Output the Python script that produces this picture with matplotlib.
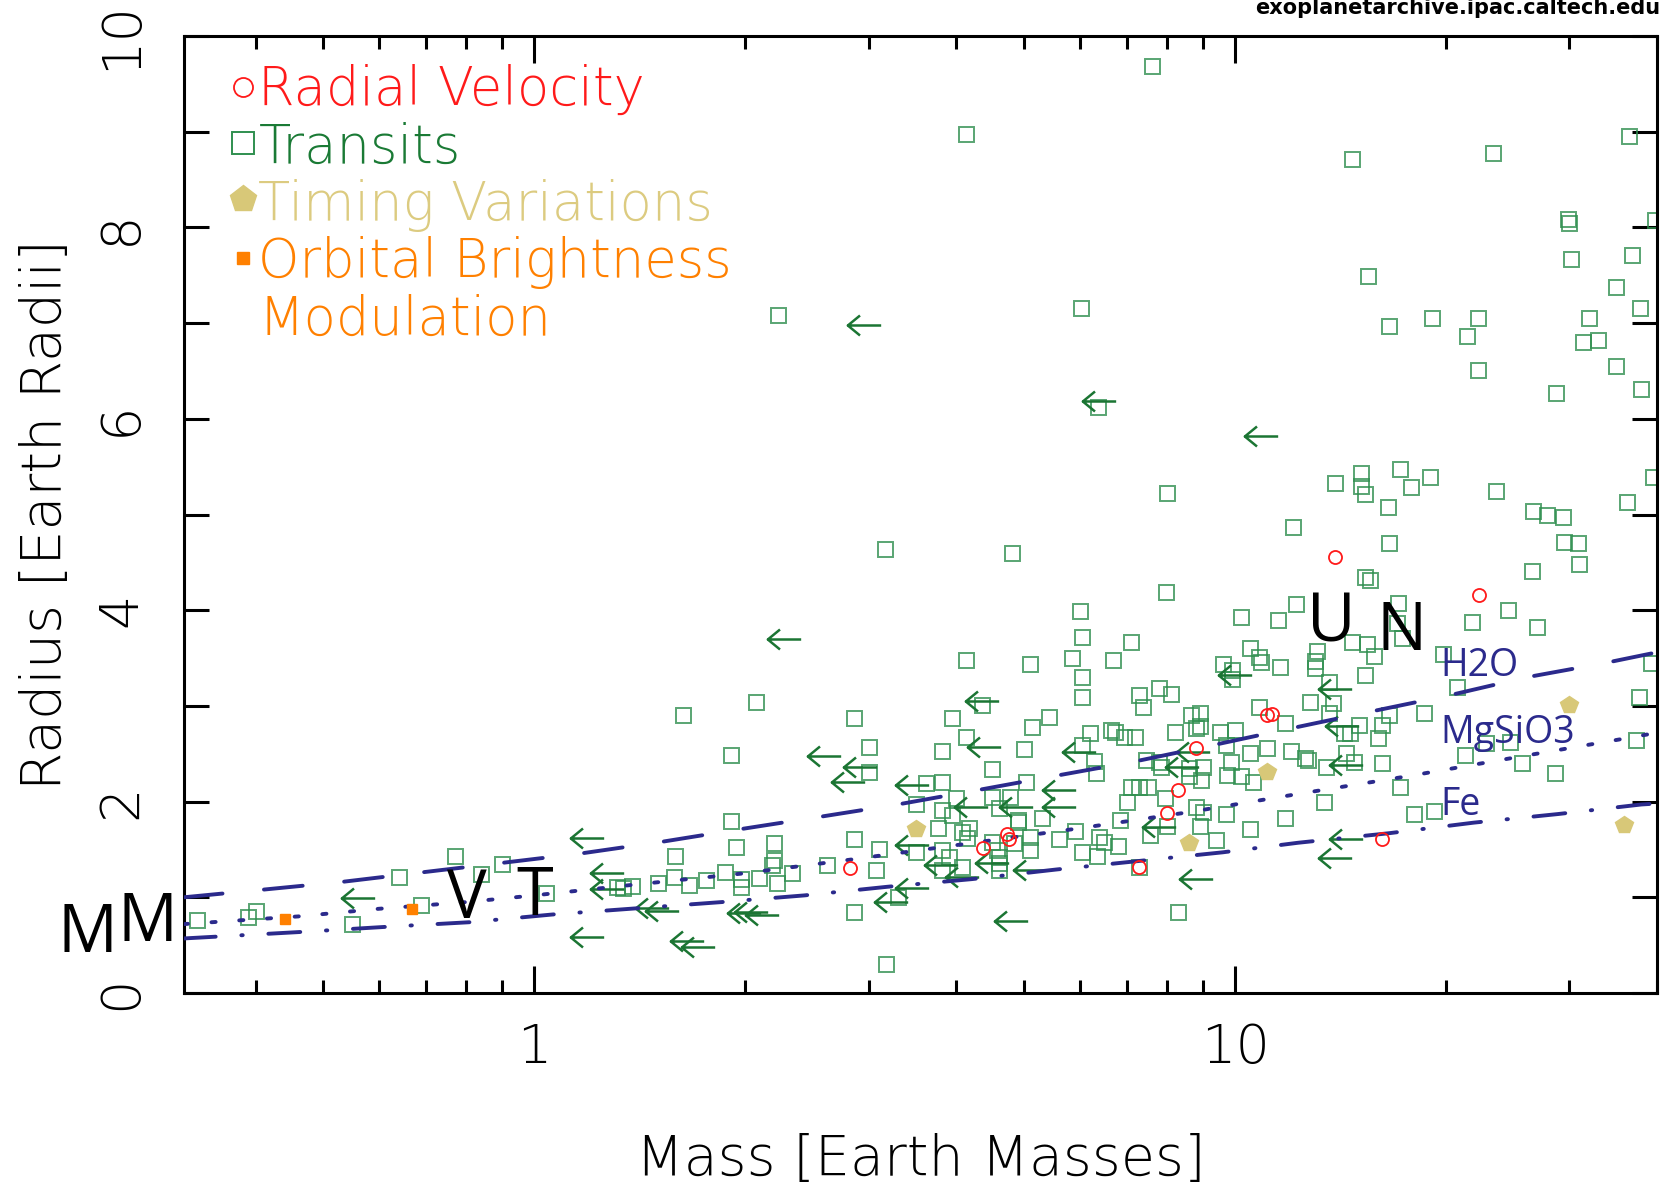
import numpy as np
import matplotlib
matplotlib.use('Agg')
import matplotlib.pyplot as plt
from matplotlib.path import Path
from matplotlib.ticker import LogLocator, NullFormatter, MultipleLocator

plt.rcParams['lines.scale_dashes'] = False

# values: (mass [Earth masses], radius [Earth radii])
transit_pts = [
    # sparse upper part
    (7.6, 9.69), (4.13, 8.98), (36.5, 8.96), (14.7, 8.71), (23.3, 8.78),
    (39.8, 8.08), (29.9, 8.09), (30.0, 8.05), (30.2, 7.67), (36.9, 7.71),
    (15.5, 7.49), (35.0, 7.38), (32.0, 7.05), (37.8, 7.16), (2.23, 7.08),
    (6.03, 7.16), (19.1, 7.05), (22.2, 7.05), (16.6, 6.97), (21.4, 6.87),
    (31.4, 6.80), (32.9, 6.82), (22.2, 6.51), (35.0, 6.55), (28.7, 6.27),
    (38.0, 6.31), (6.37, 6.12),
    # 3 - 5.5 Re
    (8.0, 5.22), (12.1, 4.87), (4.8, 4.60), (3.17, 4.64), (7.97, 4.19), (6.0, 3.99),
    (12.2, 4.06), (10.2, 3.93), (11.5, 3.90), (6.05, 3.72), (7.1, 3.67),
    (4.13, 3.48), (5.1, 3.44), (5.85, 3.50), (6.7, 3.48), (10.5, 3.60),
    (10.8, 3.51), (10.9, 3.46), (11.6, 3.41), (9.6, 3.44), (9.9, 3.38),
    (9.9, 3.28), (6.05, 3.30),
    (15.1, 5.43), (15.1, 5.30), (13.9, 5.33), (15.3, 5.21), (17.2, 5.48),
    (17.8, 5.29), (19.0, 5.39), (16.5, 5.08), (23.6, 5.25), (39.5, 5.39),
    (36.3, 5.13), (26.6, 5.04), (27.9, 4.99), (29.4, 4.97), (29.5, 4.71),
    (30.9, 4.70), (31.0, 4.48), (26.5, 4.41), (16.6, 4.70), (15.3, 4.35),
    (15.6, 4.32), (17.1, 4.08), (24.5, 4.00), (21.8, 3.88), (27.0, 3.82),
    (17.0, 3.87), (17.3, 3.71), (14.7, 3.67), (15.4, 3.65), (15.8, 3.52),
    (13.1, 3.57), (13.0, 3.47), (13.0, 3.40), (15.3, 3.32), (13.6, 3.25),
    (19.8, 3.54), (20.7, 3.20), (39.2, 3.45),
    # 2 - 3 Re, heavy side
    (12.8, 3.04), (13.8, 3.03), (13.6, 2.93), (14.3, 2.72), (14.6, 2.72),
    (15.0, 2.80), (16.0, 2.66), (16.2, 2.80), (16.6, 2.90), (18.6, 2.93),
    (37.7, 3.09), (12.6, 2.46), (12.7, 2.43), (13.5, 2.36),
    (14.8, 2.41), (14.4, 2.51), (16.2, 2.40), (17.2, 2.15), (13.4, 2.00),
    (21.3, 2.49), (22.8, 2.61), (24.7, 2.62), (25.7, 2.40), (28.6, 2.30),
    (37.3, 2.64), (18.0, 1.87), (19.2, 1.90),
    # 4 - 12 Me
    (4.35, 3.01), (6.05, 3.09), (7.3, 3.11), (7.4, 2.99), (7.8, 3.19),
    (8.1, 3.12), (3.95, 2.87), (5.13, 2.78), (5.42, 2.88), (4.13, 2.68),
    (3.82, 2.53), (5.0, 2.55), (6.05, 2.59), (6.2, 2.72), (6.66, 2.75),
    (6.75, 2.73), (6.95, 2.68), (7.2, 2.68), (6.29, 2.42), (6.34, 2.30),
    (4.5, 2.34), (3.82, 2.20), (5.03, 2.20), (8.2, 2.73),
    (8.66, 2.90), (8.9, 2.93), (8.8, 2.77), (8.9, 2.79), (7.45, 2.43),
    (7.8, 2.41), (7.85, 2.36), (8.6, 2.35), (9.0, 2.36), (8.6, 2.27),
    (8.95, 2.23), (9.5, 2.73), (10.0, 2.75), (9.7, 2.59), (11.1, 2.56),
    (10.5, 2.51), (12.0, 2.53), (10.8, 2.99), (11.8, 2.82), (9.75, 2.28),
    (10.2, 2.27), (10.6, 2.20), (9.85, 2.41), (7.1, 2.15), (7.3, 2.15),
    (7.5, 2.15), (7.0, 2.00), (7.95, 2.04), (8.8, 1.94), (9.0, 1.89),
    (9.7, 1.87), (6.85, 1.81), (8.9, 1.74), (8.0, 1.75), (7.55, 1.65),
    (10.5, 1.71), (11.8, 1.83), (9.4, 1.60), (6.4, 1.63), (6.5, 1.58),
    (6.8, 1.54), (6.05, 1.47), (6.35, 1.43), (7.3, 1.32), (5.9, 1.69),
    (5.6, 1.61), (5.1, 1.63), (5.1, 1.49), (4.9, 1.79), (5.3, 1.83),
    (4.83, 1.57), (4.5, 1.58), (4.57, 1.49), (4.6, 1.42), (4.6, 1.36),
    (4.6, 1.29), (4.0, 2.04), (3.82, 1.91), (3.95, 1.86), (3.77, 1.72),
    (4.07, 1.68), (4.15, 1.62), (4.17, 1.72), (4.5, 2.05), (4.6, 1.93),
    (4.78, 2.05), (4.9, 1.81), (3.82, 1.49), (3.9, 1.42), (3.82, 1.29),
    (4.07, 1.32), (8.3, 0.85),
    # 1.2 - 4 Me
    (2.07, 3.04), (1.63, 2.90), (2.86, 2.87), (3.0, 2.57), (1.91, 2.49),
    (3.0, 2.31), (3.62, 2.19), (3.5, 1.98), (1.91, 1.80), (2.86, 1.61),
    (3.1, 1.50), (3.5, 1.47), (2.2, 1.57), (1.94, 1.53), (1.59, 1.43),
    (2.2, 1.39), (2.62, 1.34), (3.07, 1.29), (2.33, 1.25), (1.87, 1.26),
    (1.97, 1.19), (1.97, 1.11), (2.09, 1.20), (2.22, 1.15), (2.18, 1.34),
    (1.76, 1.18), (1.66, 1.13), (1.58, 1.21), (1.5, 1.15), (1.38, 1.12),
    (1.31, 1.11), (1.34, 1.10), (3.3, 1.00), (2.86, 0.85), (3.18, 0.30),
    # below 1.1 Me
    (0.33, 0.76), (0.39, 0.79), (0.40, 0.86), (0.55, 0.72), (0.64, 1.21),
    (0.69, 0.92), (0.77, 1.43), (0.84, 1.24), (0.90, 1.35), (1.04, 1.04),
]

# transit planets with only a mass upper limit (drawn as left arrows)
transit_limit_pts = [
    (2.95, 6.98), (6.4, 6.19), (10.9, 5.82), (2.27, 3.70), (10.0, 3.32),
    (13.9, 3.18), (14.2, 2.79), (14.4, 2.38), (14.4, 1.61), (13.9, 1.41),
    (4.36, 3.05), (4.38, 2.57), (5.99, 2.52), (8.7, 2.52), (8.4, 2.36),
    (7.8, 1.73), (4.2, 1.94), (4.86, 1.94), (5.6, 2.12), (5.6, 1.94),
    (4.5, 1.36), (5.1, 1.29), (3.8, 1.34), (4.08, 1.21), (4.79, 0.75),
    (8.8, 1.19),
    (2.59, 2.48), (2.92, 2.36), (2.8, 2.20), (3.46, 2.17), (3.46, 1.55),
    (1.27, 1.25), (1.27, 1.09), (1.19, 1.62), (1.47, 0.89), (1.52, 0.86),
    (1.99, 0.84), (2.04, 0.85), (2.11, 0.82), (1.19, 0.59), (1.65, 0.54),
    (1.71, 0.48), (3.23, 0.95), (3.46, 1.10), (0.56, 0.99),
]

rv_pts = [
    (13.9, 4.56), (22.3, 4.16), (8.8, 2.56), (11.1, 2.90), (11.3, 2.92),
    (8.3, 2.12), (8.0, 1.88), (7.3, 1.32), (4.73, 1.66), (4.75, 1.61),
    (4.37, 1.52), (2.82, 1.31), (16.2, 1.61),
]

ttv_pts = [(3.5, 1.71), (8.6, 1.57), (11.1, 2.31), (30.0, 3.01), (35.9, 1.76)]

obm_pts = [(0.44, 0.77), (0.67, 0.88)]

# composition curves
h2o_mass = [0.316, 0.41, 0.53, 0.69, 0.90, 1.17, 1.52, 1.96, 2.55, 3.3, 4.29,
            5.55, 7.2, 9.3, 12.1, 15.6, 20.2, 26.1, 33.8, 40]
h2o_rad = [1.00, 1.08, 1.16, 1.26, 1.36, 1.46, 1.58, 1.71, 1.84, 1.97, 2.12,
           2.27, 2.42, 2.59, 2.77, 2.94, 3.11, 3.30, 3.45, 3.56]
mgsio3_mass = [0.316, 0.46, 0.60, 0.80, 1.0, 1.38, 1.99, 2.87, 4.14, 5.98,
               8.6, 12.3, 17.8, 25.5, 36.7, 40]
mgsio3_rad = [0.72, 0.80, 0.88, 0.95, 1.02, 1.13, 1.25, 1.40, 1.56, 1.72,
              1.89, 2.08, 2.27, 2.47, 2.67, 2.72]
fe_mass = [0.316, 0.47, 0.61, 0.81, 1.06, 1.43, 1.85, 2.43, 3.19, 4.21, 5.55,
           7.3, 9.6, 12.3, 16.6, 21.9, 28.9, 38, 40]
fe_rad = [0.57, 0.64, 0.69, 0.74, 0.82, 0.89, 0.95, 1.02, 1.11, 1.19, 1.29,
          1.38, 1.47, 1.57, 1.67, 1.78, 1.87, 1.97, 1.98]

# solar system planets (letter, mass, radius)
planet_letters = ['M', 'M', 'V', 'T', 'U', 'N']
planet_mass = [0.23, 0.28, 0.80, 1.0, 13.7, 17.3]
planet_rad = [0.61, 0.73, 0.97, 1.00, 3.86, 3.77]

navy = '#2b2a8c'
sq_green = '#2f8f4f'
arrow_green = '#1b7533'
red = '#ff1a1a'
khaki = '#d8c878'
orange = '#ff8000'
axis_font = ['DejaVu Sans']
axis_weight = 'light'

# left-pointing arrow marker
arrow = Path([(1, 0), (-1, 0), (-0.27, 0.6), (-1, 0), (-0.27, -0.6)],
             [Path.MOVETO, Path.LINETO, Path.MOVETO, Path.LINETO, Path.LINETO])

fig = plt.figure(figsize=(16.64, 11.89), dpi=100)
ax = fig.add_axes([184 / 1664, 1 - 993 / 1189, 1473 / 1664, 957 / 1189])

tm, tr = np.array(transit_pts).T
ax.plot(tm, tr, ls='none', marker='s', ms=10.8, mfc='none', mec=sq_green,
        mew=1.4, alpha=0.8, zorder=2)
lm, lr = np.array(transit_limit_pts).T
ax.plot(lm, lr, ls='none', marker=arrow, ms=24, mfc='none', mec=arrow_green,
        mew=1.8, zorder=2.5)

ax.plot(h2o_mass, h2o_rad, color=navy, lw=2.8, dashes=(28, 30),
        dash_capstyle='round', zorder=3)
ax.plot(mgsio3_mass, mgsio3_rad, color=navy, lw=2.8, dashes=(3, 17),
        dash_capstyle='round', zorder=3)
ax.plot(fe_mass, fe_rad, color=navy, lw=2.8, dashes=(23, 18.5, 1.0, 18.5),
        dash_capstyle='round', zorder=3)

rm, rr = np.array(rv_pts).T
ax.plot(rm, rr, ls='none', marker='o', ms=9.4, mfc='none', mec=red, mew=1.3, zorder=4)
vm, vr = np.array(ttv_pts).T
ax.plot(vm, vr, ls='none', marker='p', ms=13.3, mfc=khaki, mec=khaki, zorder=4)
om, orr = np.array(obm_pts).T
ax.plot(om, orr, ls='none', marker='s', ms=6.7, mfc=orange, mec=orange, zorder=4)

# curve labels
for lab, r in [('H2O', 3.42), ('MgSiO3', 2.72), ('Fe', 1.96)]:
    ax.text(19.6, r, lab, color=navy, fontsize=27, family=['Open Sans', 'DejaVu Sans'],
            va='center', ha='left', zorder=5)

for lab, m, r in zip(planet_letters, planet_mass, planet_rad):
    ax.text(m, r, lab, fontsize=48, color='black', ha='center', va='center',
            family=['Open Sans', 'DejaVu Sans'], zorder=6, clip_on=False)

# legend drawn as coloured text
legend_rows = [
    ('Radial Velocity', red, 0.947, 0.928, dict(marker='o', ms=13.7, mfc='none', mec=red, mew=1.3)),
    ('Transits', '#1a7a35', 0.888, 0.867, dict(marker='s', ms=16.5, mfc='none', mec=sq_green, mew=1.4)),
    ('Timing Variations', '#dccb80', 0.830, 0.808, dict(marker='p', ms=20, mfc=khaki, mec=khaki)),
    ('Orbital Brightness', orange, 0.768, 0.748, dict(marker='s', ms=9, mfc=orange, mec=orange)),
]
for text, col, my, ty, mk in legend_rows:
    ax.plot([0.040], [my], transform=ax.transAxes, clip_on=False, ls='none', **mk)
    ax.text(0.0505, ty, text, color=col, fontsize=38, family=axis_font,
            fontweight=axis_weight, transform=ax.transAxes, va='baseline', ha='left')
ax.text(0.0505, 0.688, 'Modulation', color=orange, fontsize=38, family=axis_font,
        fontweight=axis_weight, transform=ax.transAxes, va='baseline', ha='left')

ax.set_xscale('log')
ax.set_xlim(10 ** -0.5, 40)
ax.set_ylim(0, 10)
ax.set_xticks([1, 10], ['1', '10'])
ax.xaxis.set_minor_locator(LogLocator(base=10, subs=np.arange(2, 10)))
ax.xaxis.set_minor_formatter(NullFormatter())
ax.yaxis.set_major_locator(MultipleLocator(2))
ax.yaxis.set_minor_locator(MultipleLocator(1))

ax.tick_params(which='both', direction='in', top=True, right=True, width=2.2,
               color='black')
ax.tick_params(axis='x', which='major', length=19.5, pad=21, labelsize=39)
ax.tick_params(axis='x', which='minor', length=9.4)
ax.tick_params(axis='y', which='both', length=18, pad=26, labelsize=39,
               labelrotation=90)
for lbl in ax.get_xticklabels() + ax.get_yticklabels():
    lbl.set_family(axis_font)
    lbl.set_fontweight(axis_weight)
for lbl in ax.get_yticklabels():
    lbl.set_va('center')

for s in ax.spines.values():
    s.set_linewidth(2.2)

ax.set_xlabel('Mass [Earth Masses]', fontsize=40, family=axis_font,
              fontweight=axis_weight, labelpad=42)
ax.set_ylabel('Radius [Earth Radii]', fontsize=40, family=axis_font,
              fontweight=axis_weight, labelpad=16)

fig.text(1660 / 1664, 1 - 14 / 1189, 'exoplanetarchive.ipac.caltech.edu',
         ha='right', va='baseline', fontsize=15, fontweight='bold',
         family='DejaVu Sans')

fig.savefig('out.png', dpi=100)
